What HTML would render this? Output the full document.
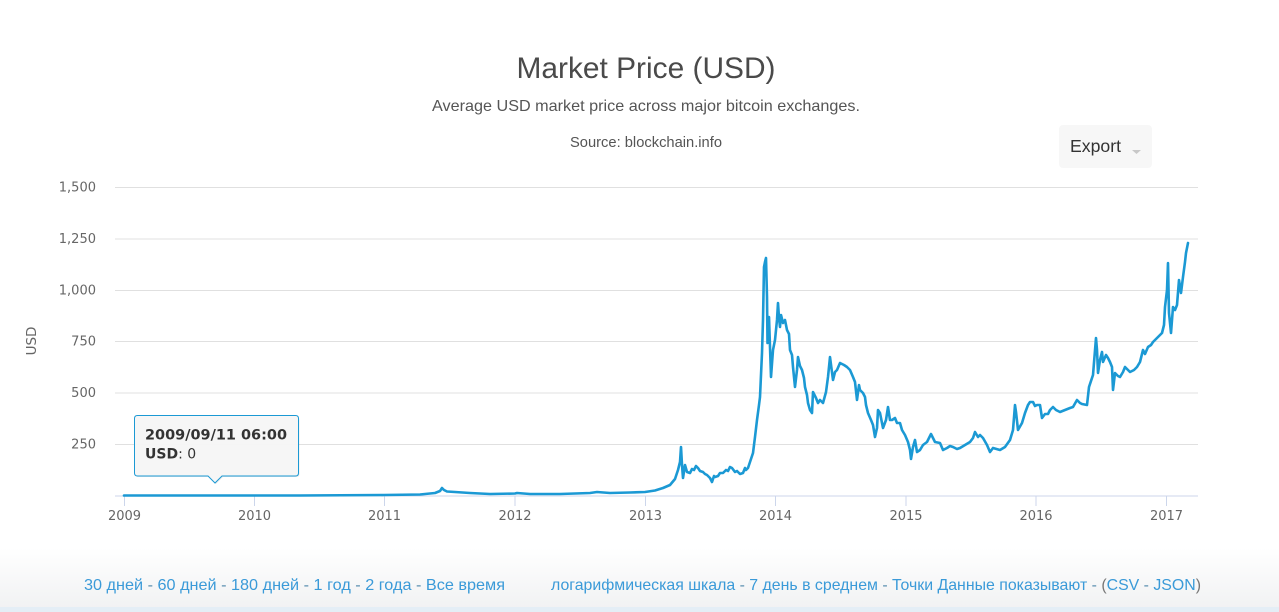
<!DOCTYPE html>
<html><head><meta charset="utf-8"><style>
html,body{margin:0;padding:0;background:#fff;width:1279px;height:612px;overflow:hidden;}
.wrap{position:relative;width:1279px;height:612px;}
.foot{position:absolute;left:0;top:548px;width:1279px;height:60px;background:linear-gradient(#ffffff,#f1f2f3);}
.band{position:absolute;left:0;top:607px;width:1279px;height:5px;background:#e4eef6;}
svg{position:absolute;left:0;top:0;}
</style></head><body><div class="wrap">
<div class="foot"></div><div class="band"></div>
<svg width="1279" height="612" viewBox="0 0 1279 612" xmlns="http://www.w3.org/2000/svg">
<text x="646" y="78" text-anchor="middle" font-family="Liberation Sans, sans-serif" font-size="30" fill="#4a4a4a" textLength="259" lengthAdjust="spacingAndGlyphs">Market Price (USD)</text>
<text x="646" y="111" text-anchor="middle" font-family="Liberation Sans, sans-serif" font-size="16" fill="#555" textLength="428" lengthAdjust="spacingAndGlyphs">Average USD market price across major bitcoin exchanges.</text>
<text x="646" y="147" text-anchor="middle" font-family="Liberation Sans, sans-serif" font-size="14.5" fill="#555" textLength="152" lengthAdjust="spacingAndGlyphs">Source: blockchain.info</text>
<rect x="1059" y="125" width="93" height="43" rx="4" fill="#f7f7f7"/>
<text x="1070" y="152" font-family="Liberation Sans, sans-serif" font-size="17.5" fill="#333" textLength="51" lengthAdjust="spacingAndGlyphs">Export</text>
<path d="M1132 150 L1141 150 L1136.5 154 Z" fill="#c8c8c8"/>
<g stroke="#e0e0e0" stroke-width="1">
<line x1="115" y1="187.5" x2="1198" y2="187.5"/>
<line x1="115" y1="239" x2="1198" y2="239"/>
<line x1="115" y1="290.5" x2="1198" y2="290.5"/>
<line x1="115" y1="341.5" x2="1198" y2="341.5"/>
<line x1="115" y1="393" x2="1198" y2="393"/>
<line x1="115" y1="444.5" x2="1198" y2="444.5"/>
</g>
<line x1="115" y1="496" x2="1198" y2="496" stroke="#ccd6eb" stroke-width="1"/>
<g stroke="#ccd6eb" stroke-width="1">
<line x1="124.5" y1="496" x2="124.5" y2="506"/>
<line x1="254.5" y1="496" x2="254.5" y2="506"/>
<line x1="384.5" y1="496" x2="384.5" y2="506"/>
<line x1="515" y1="496" x2="515" y2="506"/>
<line x1="645.5" y1="496" x2="645.5" y2="506"/>
<line x1="775.5" y1="496" x2="775.5" y2="506"/>
<line x1="906" y1="496" x2="906" y2="506"/>
<line x1="1036" y1="496" x2="1036" y2="506"/>
<line x1="1166.5" y1="496" x2="1166.5" y2="506"/>
</g>
<g font-family="DejaVu Sans, sans-serif" font-size="13" fill="#666" text-anchor="end">
<text x="96" y="191.5">1,500</text>
<text x="96" y="243">1,250</text>
<text x="96" y="294.5">1,000</text>
<text x="96" y="345.5">750</text>
<text x="96" y="397">500</text>
<text x="96" y="448.5">250</text>
</g>
<g font-family="DejaVu Sans, sans-serif" font-size="13" fill="#666" text-anchor="middle">
<text x="124.5" y="520">2009</text>
<text x="254.5" y="520">2010</text>
<text x="384.5" y="520">2011</text>
<text x="515" y="520">2012</text>
<text x="645.5" y="520">2013</text>
<text x="775.5" y="520">2014</text>
<text x="906" y="520">2015</text>
<text x="1036" y="520">2016</text>
<text x="1166.5" y="520">2017</text>
</g>
<text transform="translate(36,341) rotate(-90)" text-anchor="middle" font-family="DejaVu Sans, sans-serif" font-size="13.5" fill="#666">USD</text>
<polyline fill="none" stroke="#1b99d4" stroke-width="2.6" stroke-linejoin="round" stroke-linecap="round" points="124,495.5 300,495.5 384,495 420,494.5 435,493 440,491 442,488 444,490 447,491.5 455,492 470,493 490,494 515,493.5 517,493 530,494 560,494 590,493 597,492 610,493 630,492.5 645,492 655,490.5 663,488 670,485 675,479 678,470 680,462 681,447 682,465 683,478 685,465 687,472 690,473 692,469 694,470 696,466 698,468 700,471 703,472 705,474 707,475 710,478 712,482 714,476 715,477 718,476 720,473 723,473 726,470 728,471 730,467 732,468 735,472 737,471 740,474 743,473 745,468 746,470 748,468 750,462 753,453 755,437 757,420 759,405 760,397 762,353 763,320 764,267 765,262 766,258 767,297 767.5,343 769,317 771,377 773,350 775,340 777,320 778,303 779,318 780,327 781,315 783,323 785,320 787,330 789,334 790,350 792,355 793,367 795,387 797,370 798,357 800,366 802,370 804,378 805,387 807,395 808,403 810,410 812,413 813,392 816,398 818,403 820,400 823,403 826,392 828,377 830,357 833,380 835,372 837,370 840,363 844,365 847,367 850,370 853,377 855,382 857,400 859,385 860,390 863,393 865,397 866,405 868,413 871,420 873,425 875,437 877,428 878,410 880,413 883,428 886,420 888,407 890,420 892,420 895,418 897,423 900,423 902,430 905,435 908,442 910,450 911,459 913,447 915,440 917,452 920,450 923,445 927,442 929,438 931,434 935,442 940,443 943,450 947,448 950,446 953,447 957,449 960,448 965,445 970,442 973,438 975,432 978,437 980,435 983,438 987,445 990,452 993,448 1000,450 1005,447 1010,440 1013,430 1015,405 1016,412 1018,430 1022,423 1025,413 1028,405 1030,402 1033,402 1035,406 1037,405 1040,405 1042,418 1045,414 1048,414 1050,410 1053,407 1056,410 1060,412 1065,410 1070,408 1073,407 1077,400 1080,403 1082,404 1087,405 1089,387 1093,375 1096,338 1097,350 1098,373 1100,360 1102,352 1103,362 1106,355 1108,358 1110,362 1112,367 1113,390 1115,373 1118,376 1120,377 1123,372 1125,367 1128,370 1130,372 1134,370 1137,367 1140,362 1143,350 1145,354 1148,347 1151,345 1153,342 1157,338 1162,333 1164,325 1165,307 1167,290 1168,263 1169,313 1171,333 1173,307 1175,310 1177,305 1179,280 1181,293 1183,277 1185,262 1186,253 1188,243"/>
<path d="M137.5 416 L295.5 416 Q298.5 416 298.5 419 L298.5 473 Q298.5 476 295.5 476 L222 476 L215 483 L208 476 L137.5 476 Q134.5 476 134.5 473 L134.5 419 Q134.5 416 137.5 416 Z" fill="#000" opacity="0.08" transform="translate(1,1)"/>
<path d="M137.5 415.5 L295.5 415.5 Q298.5 415.5 298.5 418.5 L298.5 473 Q298.5 476 295.5 476 L222 476 L215 483 L208 476 L137.5 476 Q134.5 476 134.5 473 L134.5 418.5 Q134.5 415.5 137.5 415.5 Z" fill="#f7f7f7" fill-opacity="0.95" stroke="#1b99d4" stroke-width="1"/>
<text x="145" y="439.5" font-family="DejaVu Sans, sans-serif" font-size="14.5" font-weight="bold" fill="#333" textLength="142" lengthAdjust="spacingAndGlyphs">2009/09/11 06:00</text>
<text x="145" y="458.5" font-family="DejaVu Sans, sans-serif" font-size="14" fill="#333"><tspan font-weight="bold">USD</tspan>: 0</text>
<text x="84" y="590" font-family="Liberation Sans, sans-serif" font-size="16" fill="#3a9ad8" textLength="421" lengthAdjust="spacingAndGlyphs">30 дней <tspan fill="#5a8fb0">-</tspan> 60 дней <tspan fill="#5a8fb0">-</tspan> 180 дней <tspan fill="#5a8fb0">-</tspan> 1 год <tspan fill="#5a8fb0">-</tspan> 2 года <tspan fill="#5a8fb0">-</tspan> Все время</text>
<text x="551" y="590" font-family="Liberation Sans, sans-serif" font-size="16" fill="#3a9ad8" textLength="650" lengthAdjust="spacingAndGlyphs">логарифмическая шкала <tspan fill="#5a8fb0">-</tspan> 7 день в среднем <tspan fill="#5a8fb0">-</tspan> Точки Данные показывают <tspan fill="#5a8fb0">-</tspan> <tspan fill="#777">(</tspan>CSV <tspan fill="#5a8fb0">-</tspan> JSON<tspan fill="#777">)</tspan></text>
</svg>
</div></body></html>
